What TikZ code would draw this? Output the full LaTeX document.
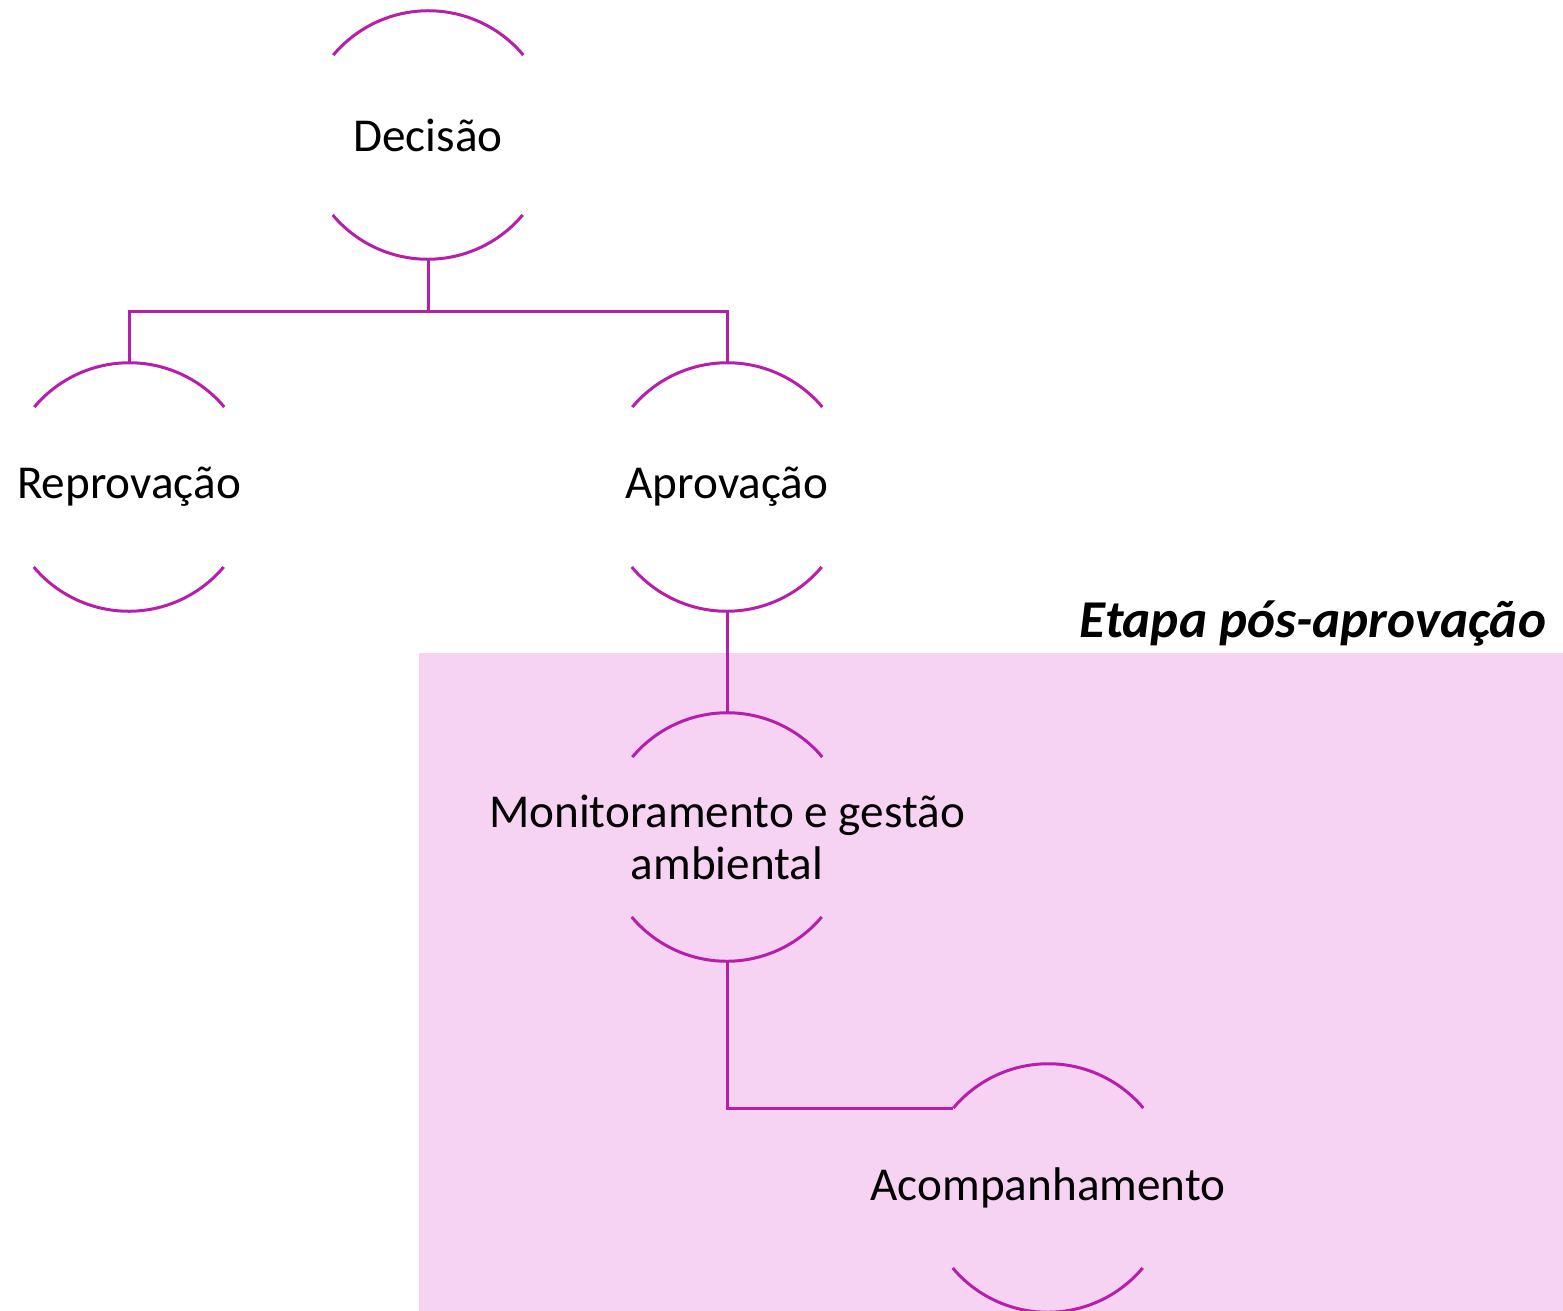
\documentclass[tikz,border=0pt]{standalone}
\usepackage{fontspec}
\setmainfont{Carlito}
\usepackage{tikz}
\usetikzlibrary{positioning}
\definecolor{magenta}{RGB}{183,30,170}
\definecolor{rosa}{RGB}{247,211,243}
\tikzset{linha/.style={draw=magenta, line width=1.5pt},
         anel/.style={circle, minimum size=124pt, inner sep=0pt,
                      label={[align=center, font=\fontsize{23.6}{26}\selectfont]center:#1}}}
\newcommand{\arcos}[1]{\draw[linha] (#1.40) arc[start angle=40, end angle=140, radius=62pt];
                      \draw[linha] (#1.220) arc[start angle=220, end angle=320, radius=62pt];}

\begin{document}
\begin{tikzpicture}[x=0.5pt, y=-0.5pt]
            \useasboundingbox (0,0) rectangle (1563,1311);
            \fill[rosa] (419,653) rectangle (1563,1311);
            \node[anchor=base east, font=\fontsize{26.6}{30}\selectfont\bfseries\itshape] (etapa) at (1553,637) {Etapa pós-aprovação};
            % ciclos
            \node[anel=Decisão] (dec) at (428,135) {};
            \node[anel=Reprovação] (rep) at (129,487) {};
            \node[anel=Aprovação] (apr) at (727,487) {};
            \node[anel={Monitoramento e gestão\\ambiental}] (mon) at (727,837) {};
            \node[anel=Acompanhamento] (aco) at (1048,1188) {};
            \arcos{dec} \arcos{rep} \arcos{apr} \arcos{mon} \arcos{aco}
            % ligacoes
            \coordinate (ramo) at (428,311);
            \draw[linha] (dec.south) -- (ramo);
            \draw[linha] (rep.north) |- (ramo) -| (apr.north);
            \draw[linha] (apr.south) -- (mon.north);
            \draw[linha] (mon.south) |- (aco.140);
        \end{tikzpicture}
\end{document}
